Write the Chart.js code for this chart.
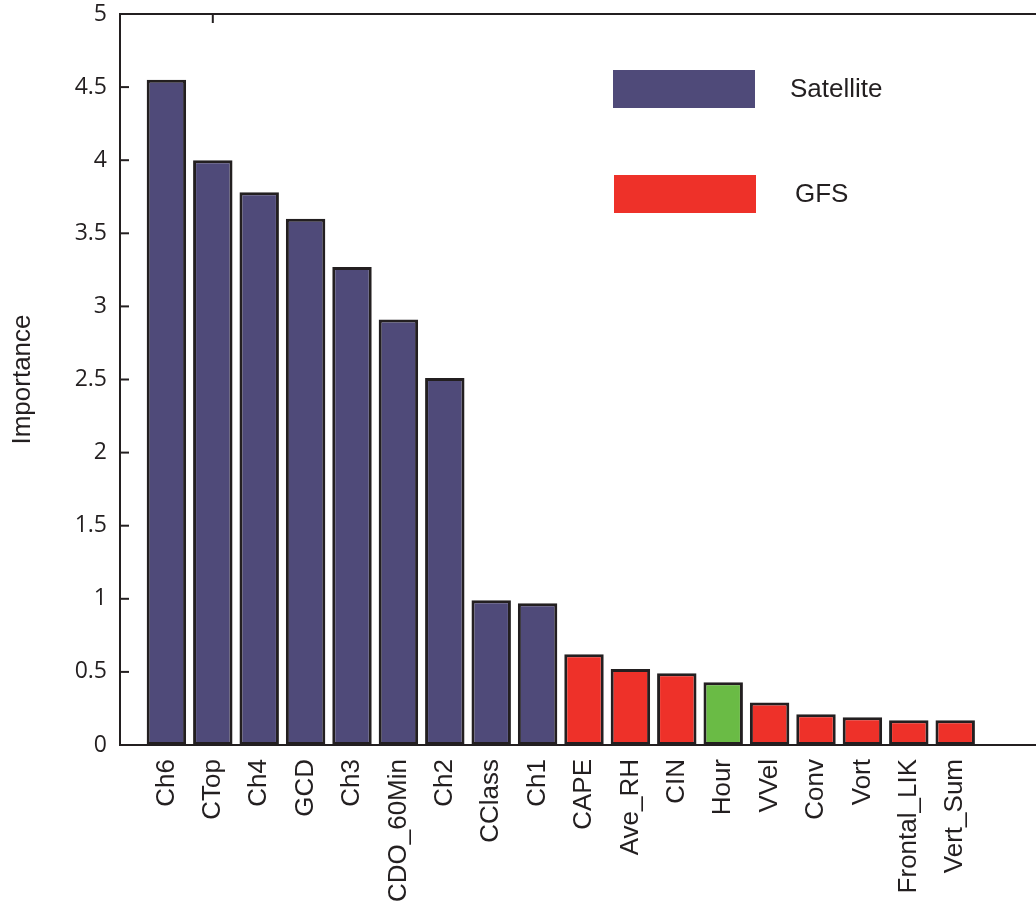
<!DOCTYPE html>
<html>
<head>
<meta charset="utf-8">
<title>Importance</title>
<script src="https://cdn.jsdelivr.net/npm/chart.js@4/dist/chart.umd.min.js"></script>
<style>
  html, body { margin: 0; padding: 0; background: #fff; overflow: hidden; }
  #wrap { width: 1036px; height: 905px; overflow: hidden; }
  canvas { display: block; }
</style>
</head>
<body>
<div id="wrap"><canvas id="impChart" width="1050" height="905"></canvas></div>
<script>
// --- data ---
const categories = ['Ch6', 'CTop', 'Ch4', 'GCD', 'Ch3', 'CDO_60Min', 'Ch2', 'CClass', 'Ch1',
  'CAPE', 'Ave_RH', 'CIN', 'Hour', 'VVel', 'Conv', 'Vort', 'Frontal_LIK', 'Vert_Sum'];
const importance = [4.55, 4.00, 3.78, 3.60, 3.27, 2.91, 2.51, 0.99, 0.97,
  0.62, 0.52, 0.49, 0.43, 0.29, 0.21, 0.19, 0.17, 0.17];
const sources = ['Satellite', 'Satellite', 'Satellite', 'Satellite', 'Satellite', 'Satellite', 'Satellite', 'Satellite', 'Satellite',
  'GFS', 'GFS', 'GFS', 'Time', 'GFS', 'GFS', 'GFS', 'GFS', 'GFS'];
const yTicks = [0, 0.5, 1, 1.5, 2, 2.5, 3, 3.5, 4, 4.5, 5];
const legendItems = ['Satellite', 'GFS'];

// --- styles ---
const ink = '#231f20';
const palette = { Satellite: '#4f4a79', GFS: '#ee3129', Time: '#6abb45' };
const labelFont = { family: 'Liberation Sans, Arial, sans-serif', size: 26 };

// axis runs 0..20 like the original: empty slot at 0 and two after the last bar
const labels = [''].concat(categories, ['', '']);
const values = [null].concat(importance, [null, null]);
const colors = ['#fff'].concat(sources.map(s => palette[s]), ['#fff', '#fff']);

/* ---------------------- frame, inward ticks, legend ---------------------- */
const framePlugin = {
  id: 'frame',
  afterDraw(chart) {
    const { ctx, chartArea, scales } = chart;
    ctx.save();
    ctx.strokeStyle = ink;
    ctx.lineWidth = 2;

    // top box line
    ctx.beginPath();
    ctx.moveTo(chartArea.left - 1, chartArea.top);
    ctx.lineTo(chartArea.right, chartArea.top);
    ctx.stroke();

    // single top tick over the second category
    const tx = scales.x.getPixelForValue(2);
    ctx.beginPath();
    ctx.moveTo(tx, chartArea.top);
    ctx.lineTo(tx, chartArea.top + 9);
    ctx.stroke();

    // inward y ticks
    yTicks.forEach(v => {
      const y = scales.y.getPixelForValue(v);
      ctx.beginPath();
      ctx.moveTo(chartArea.left, y);
      ctx.lineTo(chartArea.left + 9, y);
      ctx.stroke();
    });

    // legend boxes
    ctx.font = `${labelFont.size}px ${labelFont.family}`;
    ctx.textBaseline = 'middle';
    legendItems.forEach((name, i) => {
      const top = 70 + i * 105;
      ctx.fillStyle = palette[name];
      ctx.fillRect(613 + i, top, 142, 38);
      ctx.fillStyle = ink;
      ctx.fillText(name, 790 + i * 5, top + 20);
    });
    ctx.restore();
  }
};

const ctx = document.getElementById('impChart').getContext('2d');
new Chart(ctx, {
  type: 'bar',
  data: {
    labels,
    datasets: [{
      data: values,
      backgroundColor: colors,
      borderColor: ink,
      borderWidth: 3,
      borderSkipped: false,
      barPercentage: 0.85,
      categoryPercentage: 1
    }]
  },
  options: {
    responsive: false,
    animation: false,
    devicePixelRatio: 1,
    layout: { padding: { top: 14, right: 2, left: 0, bottom: 0 } },
    plugins: { legend: { display: false }, tooltip: { enabled: false } },
    scales: {
      x: {
        type: 'category',
        offset: false,
        grid: { display: false, drawTicks: false },
        border: { display: true, color: ink, width: 2 },
        ticks: {
          autoSkip: false,
          maxRotation: 90,
          minRotation: 90,
          padding: 14,
          color: ink,
          font: labelFont
        },
        afterFit(scale) {
          scale.height = 160;
          scale.paddingLeft = 0;
          scale.paddingRight = 0;
        }
      },
      y: {
        min: 0,
        max: 5,
        grid: { display: false, drawTicks: false },
        border: { display: true, color: ink, width: 2 },
        afterBuildTicks(scale) { scale.ticks = yTicks.map(v => ({ value: v })); },
        ticks: {
          padding: 13,
          color: ink,
          font: { family: 'Open Sans, Liberation Sans, sans-serif', size: 23 },
          callback: v => String(v)
        },
        title: {
          display: true,
          text: 'Importance',
          color: ink,
          font: { family: 'Liberation Sans, Arial, sans-serif', size: 26 },
          padding: { top: 7, bottom: 0 }
        },
        afterFit(scale) {
          scale.width = 120;
          scale.paddingTop = 0;
          scale.paddingBottom = 0;
        }
      }
    }
  },
  plugins: [framePlugin]
});
</script>
</body>
</html>
